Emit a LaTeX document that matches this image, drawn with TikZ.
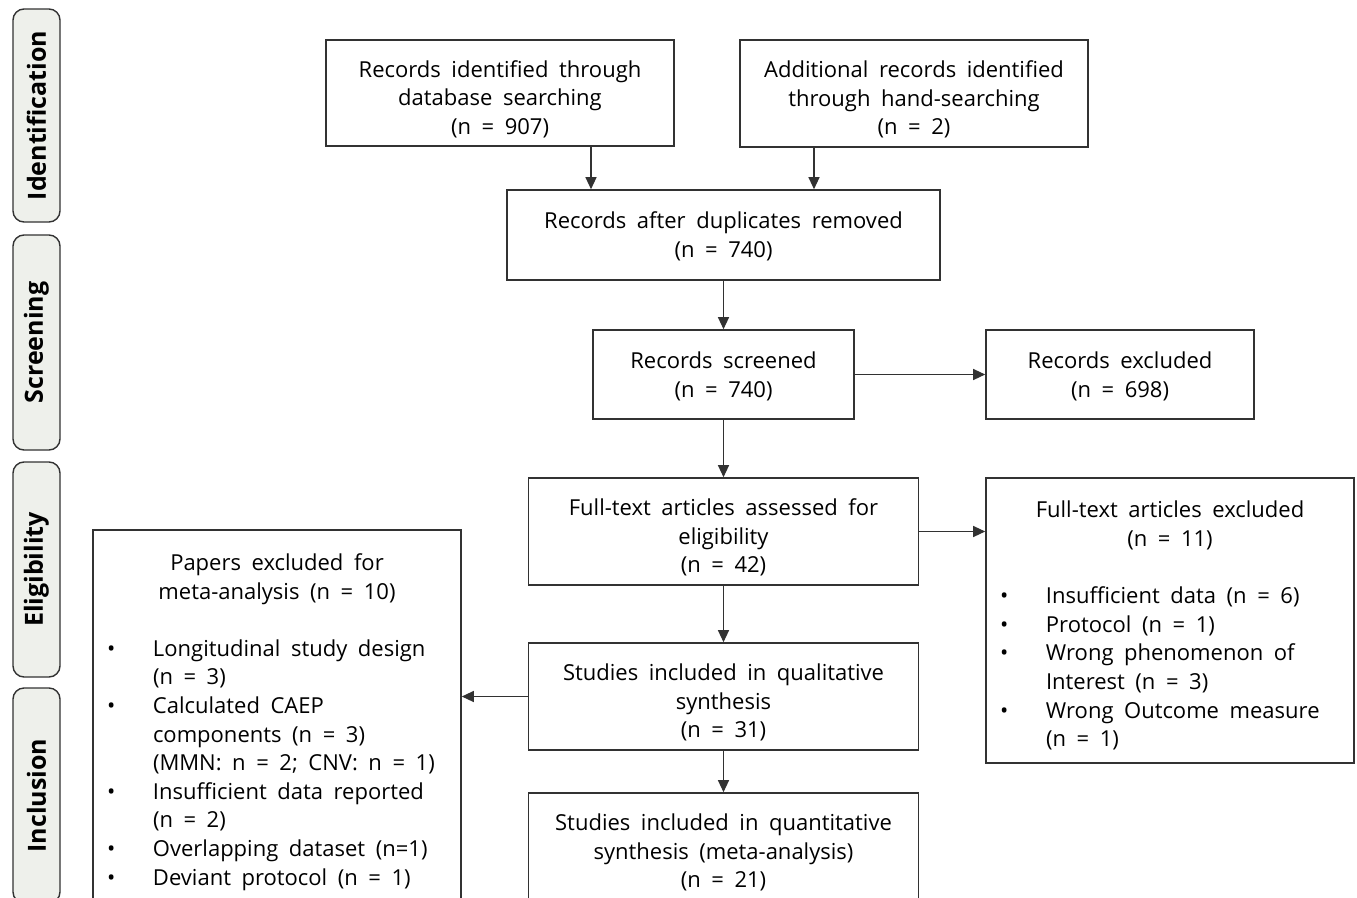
\documentclass[tikz,border=0pt]{standalone}
\usepackage{fontspec}
\setmainfont{Open Sans}[WordSpace=1.85]
\usetikzlibrary{arrows.meta}
\definecolor{FrameClr}{RGB}{50,50,50}
\definecolor{PhaseClr}{RGB}{238,240,235}

\newcommand{\boxhead}[1]{{\centering #1\par}\vspace{28.6pt}}
\newcommand{\bitem}[1]{\par\hangindent=60pt\hangafter=1\noindent
  \hspace*{14pt}\makebox[46pt][l]{\textbullet}#1\par}

\tikzset{
  frame/.style={draw=FrameClr,line width=1.6pt,inner sep=0pt,
    font=\fontsize{22}{28.6}\selectfont},
  box/.style={frame,align=flush center,text width=#1,minimum width=#1,
    text height=20pt},
  threeline/.style={text height=29pt},
  listbox/.style={frame,align=flush left,text width=#1,minimum width=#1,
    text height=27pt},
  phase/.style={draw=FrameClr,fill=PhaseClr,rounded corners=11pt,line width=1.4pt,
    minimum height=47pt,rotate=90,font=\fontsize{25}{30}\selectfont\bfseries},
  arr/.style={-{Triangle[length=12pt,width=11pt]},line width=1.2pt,draw=FrameClr}
}

\begin{document}
\begin{tikzpicture}[x=1pt,y=-1pt]
\useasboundingbox (0,0) rectangle (1357,897);
\clip (0,0) rectangle (1357,897);

\node[phase,minimum width=213pt] (idf) at (36.5,115.5) {Identification};
\node[phase,minimum width=215pt] (scrn) at (36.5,342.5) {Screening};
\node[phase,minimum width=215pt] (elig) at (36.5,569.5) {Eligibility};
\node[phase,minimum width=215pt] (incl) at (36.5,795.5) {Inclusion};

\node[box=348pt,threeline,minimum height=106pt] (rec) at (500,93)
  {Records identified through\\database searching\\(n = 907)};
\node[box=348pt,threeline,minimum height=107pt] (add) at (914,93.5)
  {Additional records identified\\through hand-searching\\(n = 2)};
\node[box=433pt,minimum height=90pt] (dup) at (723.5,235)
  {Records after duplicates removed\\(n = 740)};
\node[box=261pt,minimum height=89pt] (scr) at (723.5,374.5)
  {Records screened\\(n = 740)};
\node[box=268pt,minimum height=89pt] (excl) at (1120,374.5)
  {Records excluded\\(n = 698)};
\node[box=390pt,threeline,minimum height=107pt] (full) at (723.5,531.5)
  {Full-text articles assessed for\\eligibility\\(n = 42)};
\node[box=390pt,threeline,minimum height=107pt] (qual) at (723.5,696.5)
  {Studies included in qualitative\\synthesis\\(n = 31)};
\node[box=390pt,threeline,minimum height=107pt] (quant) at (723.5,846.5)
  {Studies included in quantitative\\synthesis (meta-analysis)\\(n = 21)};

\node[listbox=368pt,minimum height=285pt] (fexcl) at (1170,620.5)
  {\boxhead{Full-text articles excluded\\(n = 11)}
   \bitem{Insufficient data (n = 6)}
   \bitem{Protocol (n = 1)}
   \bitem{Wrong phenomenon of\newline Interest (n = 3)}
   \bitem{Wrong Outcome measure\newline (n = 1)}};
\node[listbox=368pt,minimum height=374pt] (papx) at (277,717)
  {\boxhead{Papers excluded for\\meta-analysis (n = 10)}
   \bitem{Longitudinal study design\newline (n = 3)}
   \bitem{Calculated CAEP\newline components (n = 3)\newline (MMN: n = 2; CNV: n = 1)}
   \bitem{Insufficient data reported\newline (n = 2)}
   \bitem{Overlapping dataset (n=1)}
   \bitem{Deviant protocol (n = 1)}};

\draw[arr] ([xshift=91pt]rec.south) -- ([xshift=91pt]rec.south |- dup.north);
\draw[arr] ([xshift=-100pt]add.south) -- ([xshift=-100pt]add.south |- dup.north);
\draw[arr] (dup) -- (scr);
\draw[arr] (scr) -- (excl);
\draw[arr] (scr) -- (full);
\draw[arr] (full.east) -- (full.east -| fexcl.west);
\draw[arr] (full) -- (qual);
\draw[arr] (qual.west) -- (qual.west -| papx.east);
\draw[arr] (qual) -- (quant);

\end{tikzpicture}
\end{document}
